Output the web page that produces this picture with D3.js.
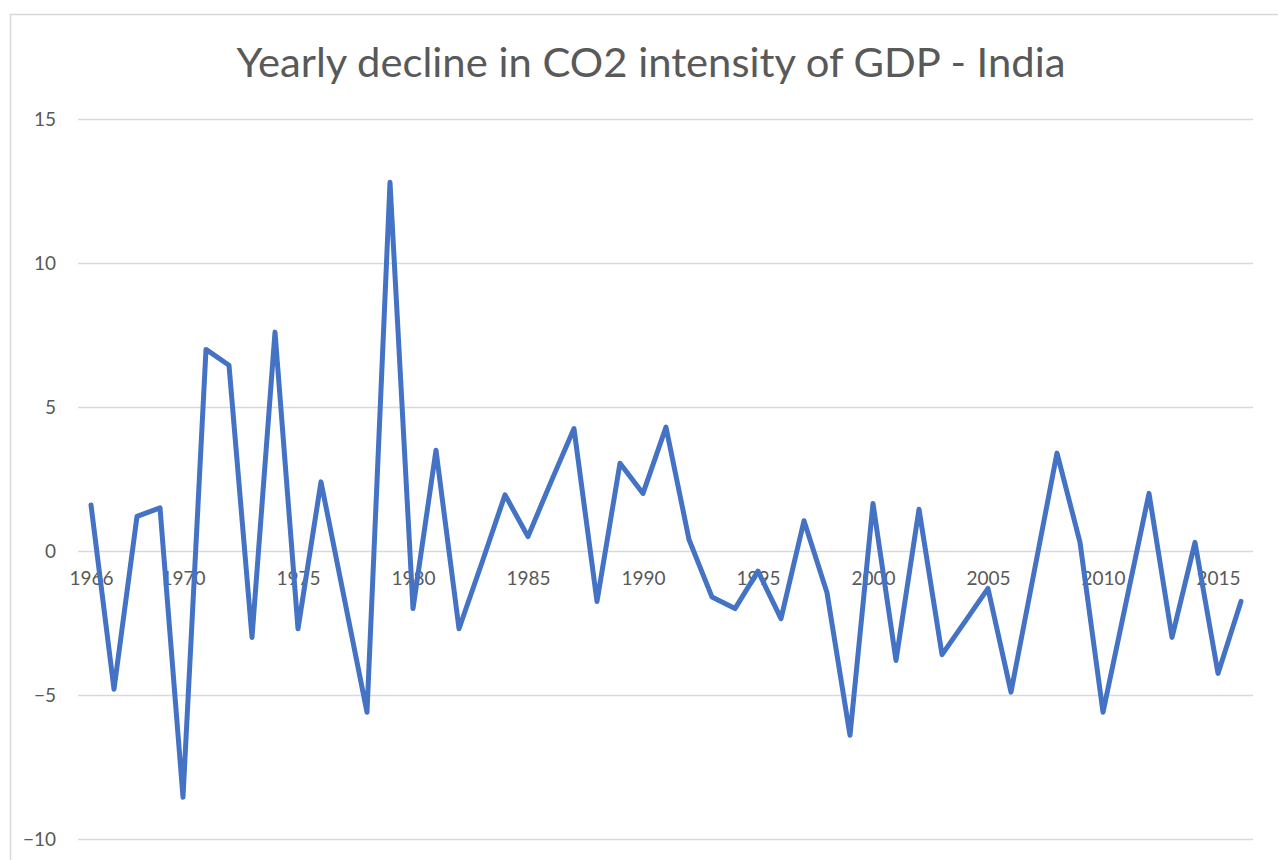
<!DOCTYPE html>
<html>
<head>
<meta charset="utf-8">
<script src="https://cdn.jsdelivr.net/npm/d3@7"></script>
<style>
  html, body { margin: 0; padding: 0; background: #ffffff; }
  svg { display: block; }
  text { font-family: Lato, "Open Sans", sans-serif; fill: #595959; }
</style>
</head>
<body>
<svg id="chart" width="1278" height="860"></svg>
<script>
const title = "Yearly decline in CO2 intensity of GDP - India";
const years = d3.range(1966, 2017);
const values = [
  1.6, -4.8, 1.2, 1.5, -8.55, 7.0, 6.45, -3.0, 7.6, -2.7,
  2.4, -1.6, -5.6, 12.8, -2.0, 3.5, -2.7, -0.4, 1.95, 0.5,
  2.4, 4.25, -1.75, 3.05, 2.0, 4.3, 0.4, -1.6, -2.0, -0.7,
  -2.35, 1.05, -1.45, -6.4, 1.65, -3.8, 1.45, -3.6, -2.45, -1.3,
  -4.9, -0.75, 3.4, 0.3, -5.6, -1.8, 2.0, -3.0, 0.3, -4.25,
  -1.75
];
const xTickLabels = [1966, 1970, 1975, 1980, 1985, 1990, 1995, 2000, 2005, 2010, 2015];
const yTickLabels = [-10, -5, 0, 5, 10, 15];

const data = years.map((y, i) => ({ year: y, value: values[i] }));

const svg = d3.select("#chart");

// chart frame
svg.append("rect")
  .attr("x", 10.5).attr("y", 14.5)
  .attr("width", 1400).attr("height", 1000)
  .attr("fill", "#ffffff")
  .attr("stroke", "#d9d9d9").attr("stroke-width", 1.5);

const x = d3.scaleLinear().domain([1966, 2016]).range([91, 1241]);
const y = d3.scaleLinear().domain([-10, 15]).range([839, 119]);

// gridlines
const yAxis = d3.axisLeft(y).tickValues(yTickLabels).tickSize(-(1253 - 78)).tickPadding(22);
const gy = svg.append("g").attr("transform", "translate(78,0)").call(yAxis);
gy.select(".domain").remove();
gy.selectAll(".tick line").attr("stroke", "#d9d9d9").attr("stroke-width", 1.5);
gy.selectAll(".tick text")
  .style("font-size", "19px").style("fill", "#595959")
  .attr("text-anchor", "end");

// x labels next to the zero line
const xAxis = d3.axisBottom(x).tickValues(xTickLabels).tickFormat(d3.format("d")).tickSize(0).tickPadding(21);
const gx = svg.append("g").attr("transform", `translate(0,${y(0)})`).call(xAxis);
gx.select(".domain").remove();
gx.selectAll(".tick text").style("font-size", "19px").style("fill", "#595959");

// line
const line = d3.line().x(d => x(d.year)).y(d => y(d.value));
svg.append("path")
  .datum(data)
  .attr("d", line)
  .attr("fill", "none")
  .attr("stroke", "#4472C4")
  .attr("stroke-width", 5)
  .attr("stroke-linejoin", "round")
  .attr("stroke-linecap", "round");

// title
const t = svg.append("text")
  .attr("x", 651).attr("y", 77)
  .attr("text-anchor", "middle")
  .style("font-size", "41px")
  .style("fill", "#595959")
  .text(title);
t.attr("textLength", 829).attr("lengthAdjust", "spacingAndGlyphs");
</script>
</body>
</html>
